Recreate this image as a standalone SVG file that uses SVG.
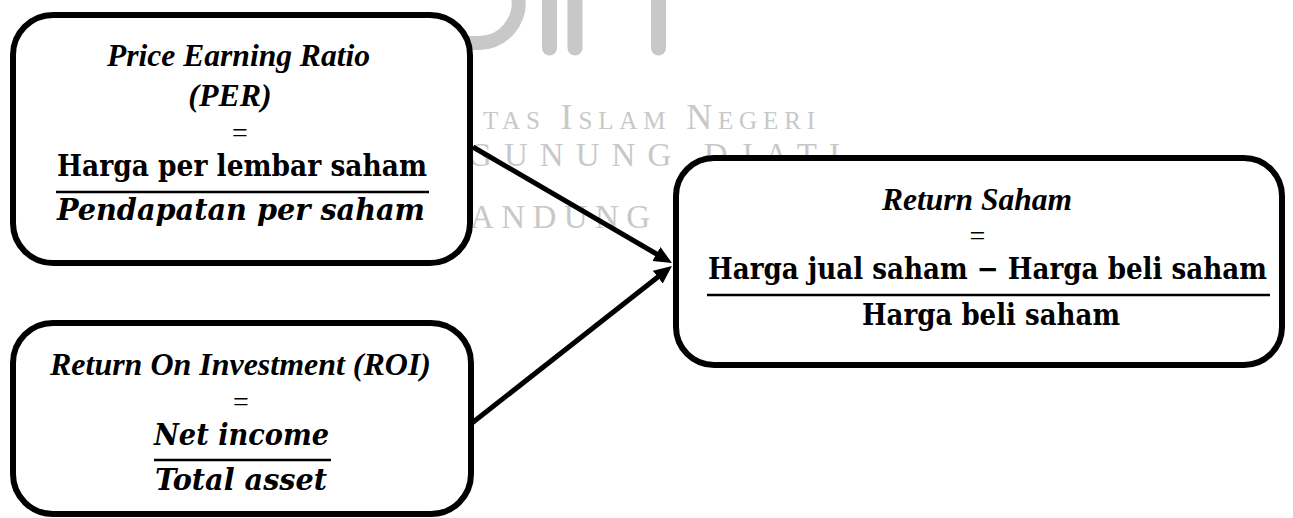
<svg xmlns="http://www.w3.org/2000/svg" width="1293" height="518" viewBox="0 0 1293 518">
<style>
.box{fill:#fff;stroke:#000;stroke-width:6}
.title{font-family:"Liberation Serif",serif;font-weight:bold;font-style:italic;font-size:32px;text-anchor:middle}
.math{font-family:"DejaVu Serif",serif;font-stretch:condensed;font-weight:bold;font-size:29px;text-anchor:middle}
.mathi{font-family:"DejaVu Serif",serif;font-stretch:condensed;font-weight:bold;font-style:italic;font-size:29px;text-anchor:middle}
.eq{font-family:"Liberation Serif",serif;font-size:28px;text-anchor:middle}
.frac{stroke:#000;stroke-width:2.5}
.conn{stroke:#000;stroke-width:5;fill:none;marker-end:url(#ah)}
.wm{fill:#c8c8c8;font-family:"Liberation Serif",serif;font-size:33px}
.wml{stroke:#c8c8c8;stroke-width:15;stroke-linecap:round;fill:none}
</style>
<defs>
<marker id="ah" markerUnits="userSpaceOnUse" markerWidth="22" markerHeight="18" refX="7" refY="8" orient="auto">
<path d="M0,0 L18,8 L0,16 z" fill="#000"/>
</marker>
</defs>
<rect width="1293" height="518" fill="#fff"/>
<g id="watermark">
<path class="wml" d="M518,-4 A40 40 0 0 1 478 43 L460 43" stroke-linecap="butt" style="stroke-width:14"/>
<line class="wml" x1="549.5" y1="-10" x2="549.5" y2="48"/>
<line class="wml" x1="575" y1="-10" x2="575" y2="48"/>
<line class="wml" x1="658.5" y1="-10" x2="658.5" y2="48"/>
<text class="wm" x="483" y="129" style="font-variant:small-caps;font-size:36px" textLength="332" lengthAdjust="spacing">tas Islam Negeri</text>
<text class="wm" x="468" y="166" textLength="372" lengthAdjust="spacing">GUNUNG DJATI</text>
<text class="wm" x="470" y="228" textLength="180" lengthAdjust="spacing">ANDUNG</text>
</g>
<g id="connectors">
<line class="conn" x1="473" y1="147" x2="662.5" y2="257.5"/>
<line class="conn" x1="472" y1="423" x2="663.3" y2="272.8"/>
</g>
<g id="node-per">
<rect class="box" x="13" y="15" width="457" height="248" rx="40"/>
<text class="title" x="238.5" y="66" textLength="263" lengthAdjust="spacingAndGlyphs">Price Earning Ratio</text>
<text class="title" x="230" y="106">(PER)</text>
<text class="eq" x="240" y="142">=</text>
<text class="math" x="242" y="176" textLength="370" lengthAdjust="spacingAndGlyphs">Harga per lembar saham</text>
<line class="frac" x1="56" y1="192" x2="429" y2="192"/>
<text class="mathi" x="241" y="220" textLength="368" lengthAdjust="spacingAndGlyphs">Pendapatan per saham</text>
</g>
<g id="node-roi">
<rect class="box" x="13" y="323" width="458" height="191" rx="40"/>
<text class="title" x="240.5" y="375" textLength="381" lengthAdjust="spacingAndGlyphs">Return On Investment (ROI)</text>
<text class="eq" x="241" y="411">=</text>
<text class="mathi" x="241.5" y="445" textLength="175" lengthAdjust="spacingAndGlyphs">Net income</text>
<line class="frac" x1="154" y1="460" x2="331" y2="460"/>
<text class="mathi" x="241" y="490" textLength="172" lengthAdjust="spacingAndGlyphs">Total asset</text>
</g>
<g id="node-return">
<rect class="box" x="676" y="158" width="606" height="207" rx="38"/>
<text class="title" x="977" y="210" textLength="190" lengthAdjust="spacingAndGlyphs">Return Saham</text>
<text class="eq" x="977.5" y="245">=</text>
<text class="math" x="987.5" y="279" textLength="559" lengthAdjust="spacingAndGlyphs">Harga jual saham − Harga beli saham</text>
<line class="frac" x1="707" y1="295" x2="1270" y2="295"/>
<text class="math" x="991" y="325" textLength="258" lengthAdjust="spacingAndGlyphs">Harga beli saham</text>
</g>
</svg>
